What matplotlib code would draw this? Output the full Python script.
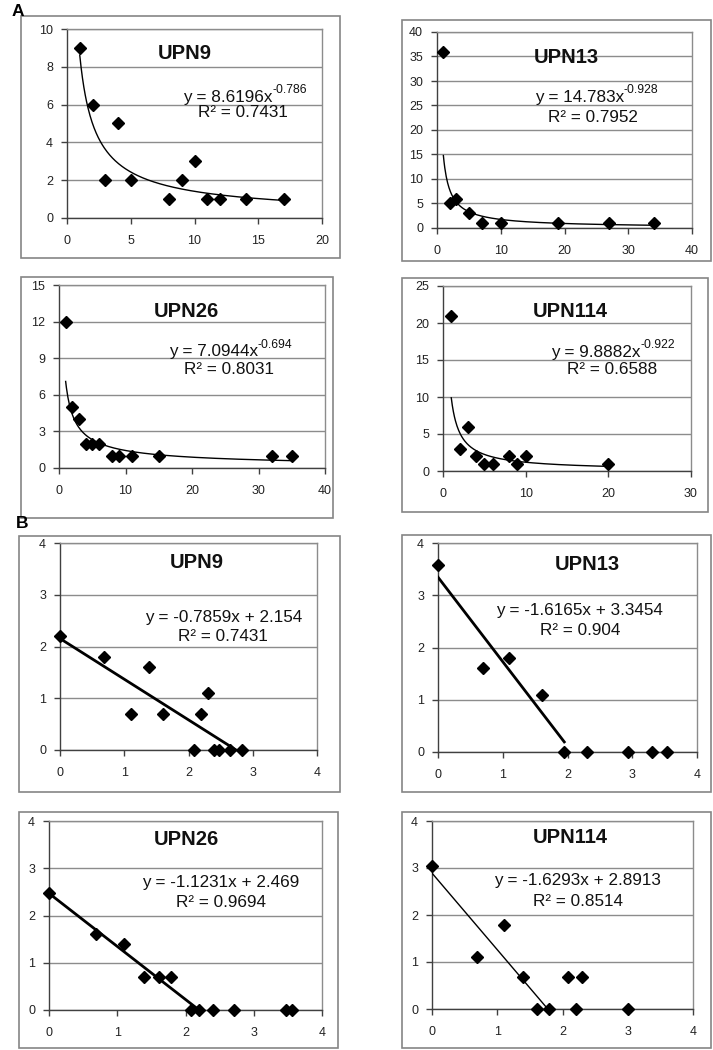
import numpy as np
import matplotlib
matplotlib.use('Agg')
import matplotlib.pyplot as plt
from matplotlib.patches import Rectangle
from matplotlib.transforms import offset_copy

plt.rcParams['font.family'] = ['Liberation Sans', 'DejaVu Sans']

W, H = 713, 1050

# -------- data: panel A (raw counts, power trend) --------
a_names = ['UPN9', 'UPN13', 'UPN26', 'UPN114']
a1_x = [1, 2, 3, 4, 5, 8, 9, 10, 11, 12, 14, 17]
a1_y = [9, 6, 2, 5, 2, 1, 2, 3, 1, 1, 1, 1]
a2_x = [1, 2, 3, 5, 7, 10, 19, 27, 34]
a2_y = [36, 5, 6, 3, 1, 1, 1, 1, 1]
a3_x = [1, 2, 3, 4, 5, 6, 8, 9, 11, 15, 32, 35]
a3_y = [12, 5, 4, 2, 2, 2, 1, 1, 1, 1, 1, 1]
a4_x = [1, 2, 3, 4, 5, 6, 8, 9, 10, 20]
a4_y = [21, 3, 6, 2, 1, 1, 2, 1, 2, 1]
a_coef = [8.6196, 14.783, 7.0944, 9.8882]
a_exp = [-0.786, -0.928, -0.694, -0.922]
a_r2 = ['0.7431', '0.7952', '0.8031', '0.6588']
a_xmax = [20, 40, 40, 30]
a_xstep = [5, 10, 10, 10]
a_ymax = [10, 40, 15, 25]
a_ystep = [2, 5, 3, 5]

# -------- data: panel B (log-log, linear trend) --------
b_names = ['UPN9', 'UPN13', 'UPN26', 'UPN114']
b1_x = [0, 0.69, 1.10, 1.39, 1.61, 2.08, 2.20, 2.30, 2.40, 2.48, 2.64, 2.83]
b1_y = [2.20, 1.79, 0.69, 1.61, 0.69, 0, 0.69, 1.10, 0, 0, 0, 0]
b2_x = [0, 0.69, 1.10, 1.61, 1.95, 2.30, 2.94, 3.30, 3.53]
b2_y = [3.58, 1.61, 1.79, 1.10, 0, 0, 0, 0, 0]
b3_x = [0, 0.69, 1.10, 1.39, 1.61, 1.79, 2.08, 2.20, 2.40, 2.71, 3.47, 3.56]
b3_y = [2.48, 1.61, 1.39, 0.69, 0.69, 0.69, 0, 0, 0, 0, 0, 0]
b4_x = [0, 0.69, 1.10, 1.39, 1.61, 1.79, 2.08, 2.20, 2.30, 3.00]
b4_y = [3.04, 1.10, 1.79, 0.69, 0, 0, 0.69, 0, 0.69, 0]
b_slope = [-0.7859, -1.6165, -1.1231, -1.6293]
b_icpt = [2.154, 3.3454, 2.469, 2.8913]
b_eq = ['y = -0.7859x + 2.154', 'y = -1.6165x + 3.3454',
        'y = -1.1231x + 2.469', 'y = -1.6293x + 2.8913']
b_r2 = ['0.7431', '0.904', '0.9694', '0.8514']
b_xend = [2.74, 1.95, 2.20, 1.77]
b_lw = [2.0, 2.0, 2.0, 1.0]

# -------- layout (pixels) --------
# plot area (x0, y0, x1, y1) and outer chart box
a_area = [(67, 29, 322, 218), (437, 32, 692, 228), (59, 285, 325, 468), (443, 286, 691, 471)]
a_box = [(21, 16, 340, 258), (402, 20, 711, 261), (21, 277, 333, 518), (402, 278, 708, 512)]
b_area = [(60, 543, 317, 750), (438, 543, 697, 752), (49, 821, 322, 1010), (432, 821, 693, 1009)]
b_box = [(19, 536, 340, 792), (402, 535, 711, 792), (19, 812, 338, 1048), (402, 812, 711, 1048)]
# text positions in axes fraction: title (x, y), equation (x, y), R2 (x, y)
a_txt = [(0.463, 0.873, 0.804, 0.64, 0.69, 0.556), (0.506, 0.872, 0.733, 0.668, 0.61, 0.566),
         (0.48, 0.853, 0.748, 0.634, 0.64, 0.54), (0.512, 0.86, 0.798, 0.643, 0.68, 0.546)]
b_txt = [(0.533, 0.908, 0.635, 0.638, 0.635, 0.546), (0.575, 0.895, 0.548, 0.675, 0.548, 0.579),
         (0.505, 0.90, 0.63, 0.677, 0.63, 0.571), (0.529, 0.91, 0.559, 0.686, 0.559, 0.574)]

EQ_SIZE = 12.3
TXT_COL = '#111111'

fig = plt.figure(figsize=(W / 100, H / 100), dpi=100)


def add_axes(area):
    x0, y0, x1, y1 = area
    return fig.add_axes([x0 / W, 1 - y1 / H, (x1 - x0) / W, (y1 - y0) / H])


def add_box(box):
    x0, y0, x1, y1 = box
    fig.patches.append(Rectangle((x0 / W, 1 - y1 / H), (x1 - x0) / W, (y1 - y0) / H,
                                 transform=fig.transFigure, fill=False,
                                 edgecolor='#858585', linewidth=1.2))


def style(ax, xmax, xstep, ymax, ystep):
    ax.set_xlim(0, xmax)
    ax.set_ylim(0, ymax)
    ax.set_xticks(np.arange(0, xmax + xstep / 2, xstep))
    ax.set_yticks(np.arange(0, ymax + ystep / 2, ystep))
    ax.yaxis.grid(True, color='#8c8c8c', linewidth=1.0)
    ax.set_axisbelow(True)
    for s in ['top', 'right']:
        ax.spines[s].set_color('#8c8c8c')
        ax.spines[s].set_linewidth(1.0)
    for s in ['left', 'bottom']:
        ax.spines[s].set_color('#404040')
        ax.spines[s].set_linewidth(1.0)
    ax.tick_params(direction='out', length=4, width=1, color='#404040',
                   labelsize=9, labelcolor='#222222')
    ax.tick_params(axis='x', pad=8)
    ax.tick_params(axis='y', pad=6)


def title(ax, name, tx, ty):
    ax.text(tx, ty, name, transform=ax.transAxes, ha='center', va='center',
            fontsize=14.5, fontweight='bold', color=TXT_COL)


def r2_text(ax, r2, rx, ry):
    ax.text(rx, ry, 'R² = ' + r2, transform=ax.transAxes, ha='center', va='center',
            fontsize=EQ_SIZE, color=TXT_COL)


a_data = [(a1_x, a1_y), (a2_x, a2_y), (a3_x, a3_y), (a4_x, a4_y)]
for i, (xs, ys) in enumerate(a_data):
    add_box(a_box[i])
    ax = add_axes(a_area[i])
    style(ax, a_xmax[i], a_xstep[i], a_ymax[i], a_ystep[i])
    xx = np.linspace(min(xs), max(xs), 300)
    ax.plot(xx, a_coef[i] * xx ** a_exp[i], color='black', linewidth=1.0, zorder=3)
    ax.plot(xs, ys, 'D', color='black', markersize=6.5, zorder=4, clip_on=False)
    tx, ty, ex, ey, rx, ry = a_txt[i]
    title(ax, a_names[i], tx, ty)
    # equation base ends at ex, exponent starts there (raised)
    ax.text(ex, ey, 'y = %sx' % a_coef[i], transform=ax.transAxes, ha='right',
            va='center', fontsize=EQ_SIZE, color=TXT_COL)
    sup_tr = offset_copy(ax.transAxes, fig=fig, x=0, y=5, units='points')
    ax.text(ex, ey, '%s' % a_exp[i], transform=sup_tr, ha='left', va='center',
            fontsize=8.8, color=TXT_COL)
    r2_text(ax, a_r2[i], rx, ry)

b_data = [(b1_x, b1_y), (b2_x, b2_y), (b3_x, b3_y), (b4_x, b4_y)]
for i, (xs, ys) in enumerate(b_data):
    add_box(b_box[i])
    ax = add_axes(b_area[i])
    style(ax, 4, 1, 4, 1)
    xx = np.array([0, b_xend[i]])
    ax.plot(xx, b_slope[i] * xx + b_icpt[i], color='black', linewidth=b_lw[i], zorder=3)
    ax.plot(xs, ys, 'D', color='black', markersize=6.5, zorder=4, clip_on=False)
    tx, ty, ex, ey, rx, ry = b_txt[i]
    title(ax, b_names[i], tx, ty)
    ax.text(ex, ey, b_eq[i], transform=ax.transAxes, ha='center', va='center',
            fontsize=EQ_SIZE, color=TXT_COL)
    r2_text(ax, b_r2[i], rx, ry)

fig.text(18 / W, 1 - 12 / H, 'A', fontsize=12.5, fontweight='bold', ha='center', va='center')
fig.text(22 / W, 1 - 523 / H, 'B', fontsize=12.5, fontweight='bold', ha='center', va='center')

fig.savefig('out.png', dpi=100, facecolor='white')
